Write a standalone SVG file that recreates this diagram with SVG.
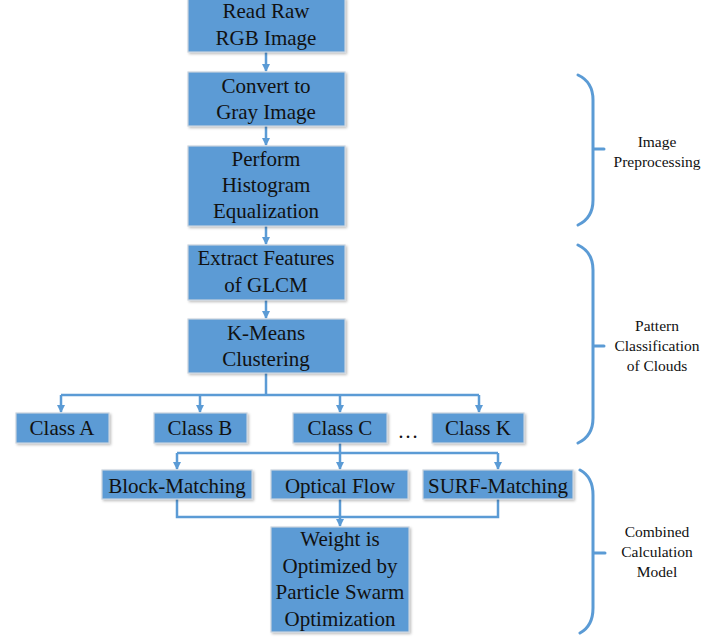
<svg xmlns="http://www.w3.org/2000/svg" width="728" height="638" viewBox="0 0 728 638">
<style>
.box{fill:#5B9BD5;stroke:#c9d3de;stroke-width:1.2;filter:url(#sh)}
.t{font-family:"Liberation Serif","Times New Roman",serif;font-size:21px;fill:#111;text-anchor:middle}
.l{font-family:"Liberation Serif","Times New Roman",serif;font-size:15.5px;fill:#111;text-anchor:middle}
.c{fill:none;stroke:#5B9BD5;stroke-width:2.5}
.br{fill:none;stroke:#5B9BD5;stroke-width:3;stroke-linecap:round}
</style>
<defs>
<filter id="sh" x="-10%" y="-10%" width="130%" height="130%">
<feDropShadow dx="1.5" dy="1.5" stdDeviation="1" flood-color="#000" flood-opacity="0.25"/>
</filter>
<marker id="ah" markerWidth="8" markerHeight="8" refX="7" refY="4" orient="auto" markerUnits="userSpaceOnUse">
<path d="M0,0 L8,4 L0,8 Z" fill="#5B9BD5"/>
</marker>
</defs>
<rect width="728" height="638" fill="#fff"/>
<g id="connectors">
<path class="c" d="M266,52 V71" marker-end="url(#ah)"/>
<path class="c" d="M266,126 V145" marker-end="url(#ah)"/>
<path class="c" d="M266,226 V244" marker-end="url(#ah)"/>
<path class="c" d="M266,300 V318" marker-end="url(#ah)"/>
<path class="c" d="M266,373 V395"/>
<path class="c" d="M61,395 H479"/>
<path class="c" d="M61,395 V412" marker-end="url(#ah)"/>
<path class="c" d="M200,395 V412" marker-end="url(#ah)"/>
<path class="c" d="M340,395 V412" marker-end="url(#ah)"/>
<path class="c" d="M479,395 V412" marker-end="url(#ah)"/>
<path class="c" d="M340,443 V453"/>
<path class="c" d="M177,453 H498"/>
<path class="c" d="M177,453 V469" marker-end="url(#ah)"/>
<path class="c" d="M340,453 V469" marker-end="url(#ah)"/>
<path class="c" d="M498,453 V469" marker-end="url(#ah)"/>
<path class="c" d="M177,499 V517 H498 V499"/>
<path class="c" d="M340,499 V526" marker-end="url(#ah)"/>
</g>
<g id="n1"><rect class="box" x="188" y="-2" width="157" height="54"/><text class="t" x="266" y="18">Read Raw</text><text class="t" x="266" y="45">RGB Image</text></g>
<g id="n2"><rect class="box" x="188" y="72" width="157" height="54"/><text class="t" x="266" y="93">Convert to</text><text class="t" x="266" y="119">Gray Image</text></g>
<g id="n3"><rect class="box" x="188" y="146" width="157" height="80"/><text class="t" x="266" y="166">Perform</text><text class="t" x="266" y="192">Histogram</text><text class="t" x="266" y="218">Equalization</text></g>
<g id="n4"><rect class="box" x="188" y="245" width="157" height="55"/><text class="t" x="266" y="265">Extract Features</text><text class="t" x="266" y="292">of GLCM</text></g>
<g id="n5"><rect class="box" x="188" y="319" width="157" height="54"/><text class="t" x="266" y="340">K-Means</text><text class="t" x="266" y="366">Clustering</text></g>
<g id="classA"><rect class="box" x="16" y="413" width="93" height="30"/><text class="t" x="62" y="435">Class A</text></g>
<g id="classB"><rect class="box" x="154" y="413" width="93" height="30"/><text class="t" x="200" y="435">Class B</text></g>
<g id="classC"><rect class="box" x="293" y="413" width="94" height="30"/><text class="t" x="340" y="435">Class C</text></g>
<g id="dots"><text class="t" x="408" y="438">…</text></g>
<g id="classK"><rect class="box" x="432" y="413" width="92" height="30"/><text class="t" x="478" y="435">Class K</text></g>
<g id="block"><rect class="box" x="102" y="470" width="150" height="29"/><text class="t" x="177" y="493">Block-Matching</text></g>
<g id="optical"><rect class="box" x="271" y="470" width="137" height="29"/><text class="t" x="340" y="493">Optical Flow</text></g>
<g id="surf"><rect class="box" x="423" y="470" width="150" height="29"/><text class="t" x="498" y="493">SURF-Matching</text></g>
<g id="weight"><rect class="box" x="271" y="527" width="138" height="105"/><text class="t" x="340" y="546">Weight is</text><text class="t" x="340" y="573">Optimized by</text><text class="t" x="340" y="599">Particle Swarm</text><text class="t" x="340" y="626">Optimization</text></g>
<g id="brace1"><path class="br" d="M578,75 Q593,82 593,100 V200 Q593,218 578,225 M593,149 H604"/><text class="l" x="657" y="147">Image</text><text class="l" x="657" y="167">Preprocessing</text></g>
<g id="brace2"><path class="br" d="M578,245 Q593,252 593,270 V418 Q593,436 578,443 M593,346 H604"/><text class="l" x="657" y="331">Pattern</text><text class="l" x="657" y="351">Classification</text><text class="l" x="657" y="371">of Clouds</text></g>
<g id="brace3"><path class="br" d="M580,470 Q593,477 593,495 V608 Q593,626 580,633 M593,553 H605"/><text class="l" x="657" y="537">Combined</text><text class="l" x="657" y="557">Calculation</text><text class="l" x="657" y="577">Model</text></g>
</svg>
